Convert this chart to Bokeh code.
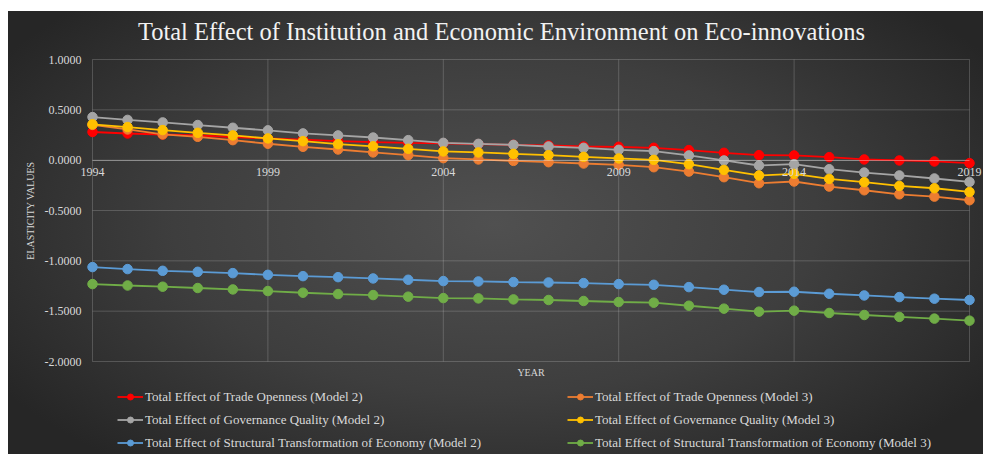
from bokeh.plotting import figure
from bokeh.models import (Legend, LegendItem, FixedTicker, NumeralTickFormatter,
                          Range1d, Label)
from bokeh.embed import file_html
from bokeh.resources import INLINE

years = list(range(1994, 2020))

trade_m2 = [0.280, 0.265, 0.255, 0.245, 0.230, 0.215, 0.205, 0.190, 0.180,
            0.172, 0.166, 0.159, 0.152, 0.146, 0.136, 0.133, 0.123,
            0.100, 0.073, 0.050, 0.047, 0.030, 0.007, -0.003, -0.013, -0.030]
trade_m3 = [0.350, 0.305, 0.256, 0.232, 0.199, 0.163, 0.133, 0.106, 0.077,
            0.050, 0.020, 0.007, -0.007, -0.020, -0.033, -0.047, -0.070,
            -0.113, -0.169, -0.229, -0.212, -0.262, -0.299, -0.339, -0.362, -0.398]
gov_m2 = [0.428, 0.400, 0.375, 0.349, 0.322, 0.296, 0.266, 0.246, 0.225,
          0.199, 0.172, 0.162, 0.152, 0.136, 0.123, 0.103, 0.090,
          0.047, -0.003, -0.053, -0.040, -0.090, -0.123, -0.152, -0.182, -0.216]
gov_m3 = [0.356, 0.329, 0.299, 0.272, 0.246, 0.216, 0.189, 0.159, 0.138,
          0.113, 0.087, 0.077, 0.063, 0.050, 0.033, 0.017, 0.003,
          -0.040, -0.097, -0.152, -0.136, -0.186, -0.219, -0.256, -0.279, -0.316]
struct_m2 = [-1.062, -1.082, -1.099, -1.109, -1.122, -1.139, -1.152, -1.162, -1.175,
             -1.188, -1.201, -1.205, -1.211, -1.215, -1.221, -1.231, -1.238,
             -1.261, -1.287, -1.310, -1.307, -1.327, -1.344, -1.360, -1.376, -1.389]
struct_m3 = [-1.231, -1.245, -1.257, -1.270, -1.284, -1.300, -1.317, -1.330, -1.340,
             -1.356, -1.370, -1.373, -1.383, -1.389, -1.399, -1.409, -1.416,
             -1.446, -1.475, -1.505, -1.495, -1.518, -1.538, -1.557, -1.574, -1.594]

series_names = [
    "Total Effect of Trade Openness (Model 2)",
    "Total Effect of Trade Openness (Model 3)",
    "Total Effect of Governance Quality (Model 2)",
    "Total Effect of Governance Quality (Model 3)",
    "Total Effect of Structural Transformation of Economy (Model 2)",
    "Total Effect of Structural Transformation of Economy (Model 3)",
]
series_values = [trade_m2, trade_m3, gov_m2, gov_m3, struct_m2, struct_m3]
series_colors = ["#FF0000", "#ED7D31", "#A5A5A5", "#FFC000", "#5B9BD5", "#70AD47"]

x_ticks = [1994, 1999, 2004, 2009, 2014, 2019]
y_ticks = [1.0, 0.5, 0.0, -0.5, -1.0, -1.5, -2.0]

TITLE = "Total Effect of Institution and Economic Environment on Eco-innovations"
TXT = "#d9d9d9"
SERIF = "Liberation Serif"

# ---- layout geometry (pixels) ----
FIG_W, FIG_H = 975, 443
PLOT_L, PLOT_R = 84, 961             # x pixel of first / last tick
PLOT_T, PLOT_B = 48, 350             # y pixel (from top) of top / bottom tick
x0, x1 = x_ticks[0], x_ticks[-1]
y0, y1 = y_ticks[-1], y_ticks[0]
xs = (PLOT_R - PLOT_L) / (x1 - x0)
ys = (PLOT_B - PLOT_T) / (y1 - y0)
x_range = Range1d(x0 - PLOT_L / xs, x1 + (FIG_W - PLOT_R) / xs)
y_range = Range1d(y0 - (FIG_H - PLOT_B) / ys, y1 + PLOT_T / ys)

p = figure(width=FIG_W, height=FIG_H, output_backend="svg", toolbar_location=None,
           x_range=x_range, y_range=y_range,
           min_border_left=0, min_border_right=0, min_border_top=0,
           min_border_bottom=0, margin=(11, 3, 3, 8))
p.styles = {"background": "radial-gradient(ellipse 60% 70% at 50% 48%, #505050 0%, #3e3e3e 55%, #262626 100%)"}
p.border_fill_alpha = 0
p.background_fill_alpha = 0
p.outline_line_color = None
p.xgrid.visible = False
p.ygrid.visible = False

# chart title
p.add_layout(Label(x=493, y=FIG_H - 20, x_units="screen", y_units="screen",
                   text=TITLE, text_align="center", text_baseline="middle",
                   text_font=SERIF, text_font_size="24.5px",
                   text_color="#f2f2f2"))

# gridlines limited to the plot area
p.segment(x0=x_ticks, x1=x_ticks, y0=[y0] * len(x_ticks), y1=[y1] * len(x_ticks),
          line_color="#ffffff", line_alpha=0.18, line_width=1)
p.segment(x0=[x0] * len(y_ticks), x1=[x1] * len(y_ticks), y0=y_ticks, y1=y_ticks,
          line_color="#ffffff", line_alpha=0.18, line_width=1)

# axes
p.xaxis.fixed_location = 0
p.xaxis.bounds = (x0, x1)
p.xaxis.ticker = FixedTicker(ticks=x_ticks)
p.xaxis.major_tick_out = 0
p.xaxis.major_tick_in = 0
p.xaxis.minor_tick_out = 0
p.xaxis.minor_tick_in = 0
p.xaxis.major_label_standoff = 8
p.xaxis.major_label_text_font = SERIF
p.xaxis.major_label_text_font_size = "12px"
p.xaxis.major_label_text_color = TXT
p.xaxis.axis_line_color = "#ffffff"
p.xaxis.axis_line_alpha = 0.35

p.yaxis.fixed_location = x0
p.yaxis.bounds = (y0, y1)
p.yaxis.ticker = FixedTicker(ticks=y_ticks)
p.yaxis.formatter = NumeralTickFormatter(format="0.0000")
p.yaxis.axis_line_color = None
p.yaxis.major_tick_out = 0
p.yaxis.major_tick_in = 0
p.yaxis.minor_tick_out = 0
p.yaxis.minor_tick_in = 0
p.yaxis.major_label_standoff = 11
p.yaxis.major_label_text_font = SERIF
p.yaxis.major_label_text_font_size = "12px"
p.yaxis.major_label_text_color = TXT
p.yaxis.axis_label = "ELASTICITY VALUES"
p.yaxis.axis_label_text_font = SERIF
p.yaxis.axis_label_text_font_size = "10px"
p.yaxis.axis_label_text_font_style = "normal"
p.yaxis.axis_label_text_color = TXT
p.yaxis.axis_label_standoff = 6

p.add_layout(Label(x=(x0 + x1) / 2, y=y0, y_offset=-11, text="YEAR",
                   text_align="center", text_baseline="middle",
                   text_font=SERIF, text_font_size="10px", text_color=TXT))

items = []
for name, vals, col in zip(series_names, series_values, series_colors):
    ln = p.line(years, vals, line_color=col, line_width=1.8)
    sc = p.scatter(years, vals, marker="circle", size=9.5, fill_color=col,
                   line_color=col)
    items.append(LegendItem(label=name, renderers=[ln, sc]))

legend = Legend(items=items, orientation="horizontal", ncols=2,
                location=(109, 3.5), margin=0, padding=0, spacing=7,
                glyph_width=26, glyph_height=15, label_height=15,
                label_width=415, label_standoff=2,
                label_text_font=SERIF, label_text_font_size="13px",
                label_text_color=TXT, border_line_color=None,
                background_fill_alpha=0)
p.add_layout(legend, "center")

open("out.html", "w").write(file_html(p, INLINE))
